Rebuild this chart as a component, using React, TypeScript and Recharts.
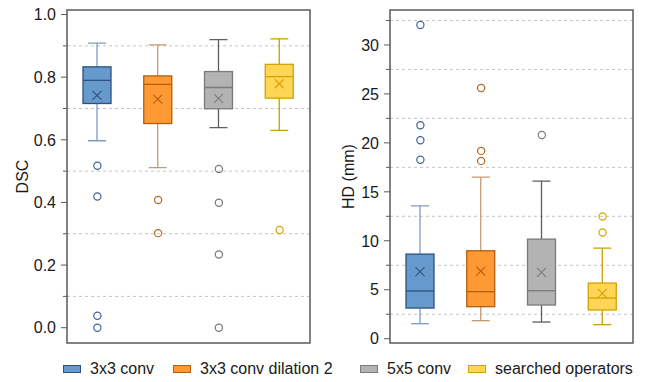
import React from "react";
import { Bar, CartesianGrid, ComposedChart, ReferenceArea, Scatter, XAxis, YAxis } from "recharts";

const groups = ["3x3 conv", "3x3 conv dilation 2", "5x5 conv", "searched operators"];

// DSC box statistics
const dscLow = [0.597, 0.511, 0.639, 0.63];
const dscQ1 = [0.716, 0.652, 0.699, 0.733];
const dscMedian = [0.79, 0.777, 0.767, 0.802];
const dscQ3 = [0.833, 0.804, 0.818, 0.841];
const dscHigh = [0.909, 0.903, 0.92, 0.922];
const dscMean = [0.742, 0.73, 0.732, 0.779];
const dscOutliers = [[0.517, 0.419, 0.038, 0.0], [0.408, 0.302], [0.507, 0.399, 0.234, 0.0], [0.312]];
const dscMajor = [0, 0.2, 0.4, 0.6, 0.8, 1.0];
const dscMinor = [0.1, 0.3, 0.5, 0.7, 0.9];

// HD box statistics (mm)
const hdLow = [1.53, 1.84, 1.7, 1.43];
const hdQ1 = [3.13, 3.27, 3.44, 2.93];
const hdMedian = [4.87, 4.8, 4.9, 4.15];
const hdQ3 = [8.64, 8.98, 10.17, 5.68];
const hdHigh = [13.57, 16.5, 16.1, 9.25];
const hdMean = [6.84, 6.9, 6.77, 4.62];
const hdOutliers = [[32.04, 21.8, 20.27, 18.27], [25.6, 19.18, 18.16], [20.8], [12.48, 10.85]];
const hdMajor = [0, 5, 10, 15, 20, 25, 30];
const hdMinor = [2.5, 7.5, 12.5, 17.5, 22.5, 27.5, 32.5];

const fills = ["#6699cc", "#ff9933", "#b3b3b3", "#ffd555"];
const edges = ["#2e5182", "#b0600e", "#7a7a7a", "#d3a200"];
const whiskers = ["#7e9bbf", "#c8996e", "#5e5e5e", "#c9a000"];
const dots = ["#3f6596", "#b06a25", "#7a7a7a", "#d4a500"];

const FONT = "'Liberation Sans', Arial, sans-serif";
const FRAME = "#5a5a5a";

function buildRows(low: number[], q1: number[], med: number[], q3: number[], high: number[], mean: number[]) {
  return groups.map((name, i) => ({
    name, i, low: low[i], q1: q1[i], med: med[i], q3: q3[i], high: high[i], mean: mean[i],
  }));
}

function buildOutliers(out: number[][]) {
  return out.flatMap((vals, i) => vals.map((v) => ({ name: groups[i], i, v })));
}

function BoxShape(props: any) {
  const { x, y, width, height, payload } = props;
  const { low, q1, med, q3, high, mean, i } = payload;
  const py = (v: number) => y + (height * (high - v)) / (high - low);
  const cx = x + width / 2;
  const cap = 9;
  const m = 4.5;
  return (
    <g>
      <line x1={cx} x2={cx} y1={py(high)} y2={py(q3)} stroke={whiskers[i]} strokeWidth={1.3} />
      <line x1={cx} x2={cx} y1={py(q1)} y2={py(low)} stroke={whiskers[i]} strokeWidth={1.3} />
      <line x1={cx - cap} x2={cx + cap} y1={py(high)} y2={py(high)} stroke={whiskers[i]} strokeWidth={1.3} />
      <line x1={cx - cap} x2={cx + cap} y1={py(low)} y2={py(low)} stroke={whiskers[i]} strokeWidth={1.3} />
      <rect x={x} y={py(q3)} width={width} height={py(q1) - py(q3)} fill={fills[i]} stroke={edges[i]} strokeWidth={1.3} />
      <line x1={x} x2={x + width} y1={py(med)} y2={py(med)} stroke={edges[i]} strokeWidth={1.3} />
      <line x1={cx - m} x2={cx + m} y1={py(mean) - m} y2={py(mean) + m} stroke={edges[i]} strokeWidth={1.1} />
      <line x1={cx - m} x2={cx + m} y1={py(mean) + m} y2={py(mean) - m} stroke={edges[i]} strokeWidth={1.1} />
    </g>
  );
}

function OutlierDot(props: any) {
  const { cx, cy, payload } = props;
  return <circle cx={cx} cy={cy} r={3.6} fill="none" stroke={dots[payload.i]} strokeWidth={1.2} />;
}

type PanelProps = {
  width: number;
  axisWidth: number;
  rows: ReturnType<typeof buildRows>;
  outliers: ReturnType<typeof buildOutliers>;
  domain: [number, number];
  major: number[];
  minor: number[];
  title: string;
  titleX: number;
  fmt: (v: number) => string;
  marginRight: number;
};

function BoxPanel(p: PanelProps) {
  const ticks = [...p.major, ...p.minor].sort((a, b) => a - b);
  const renderTick = (t: any) => {
    const v = t.payload.value;
    const isMajor = p.major.includes(v);
    return (
      <g>
        <line x1={p.axisWidth - (isMajor ? 6 : 4)} x2={p.axisWidth} y1={t.y} y2={t.y} stroke={FRAME} strokeWidth={1} />
        {isMajor && (
          <text x={p.axisWidth - 11} y={t.y} dy="0.36em" textAnchor="end" fontSize={16} fill="#1a1a1a" fontFamily={FONT}>
            {p.fmt(v)}
          </text>
        )}
      </g>
    );
  };
  return (
    <ComposedChart
      width={p.width}
      height={382}
      data={p.rows}
      margin={{ top: 10, right: p.marginRight, bottom: 39, left: 0 }}
    >
      <CartesianGrid vertical={false} horizontalValues={p.minor} stroke="#c4c4c4" strokeDasharray="3 3" />
      <XAxis dataKey="name" allowDuplicatedCategory={false} tick={false} tickLine={false} height={0} axisLine={false} />
      <YAxis
        type="number"
        domain={p.domain}
        allowDataOverflow
        ticks={ticks}
        interval={0}
        width={p.axisWidth}
        tick={renderTick}
        tickLine={false}
        axisLine={false}
        label={{
          content: (lp: any) => {
            const vb = lp.viewBox;
            const cy = vb.y + vb.height / 2;
            return (
              <text x={p.titleX} y={cy} transform={`rotate(-90, ${p.titleX}, ${cy})`} textAnchor="middle" dy="0.36em" fontSize={16} fill="#1a1a1a" fontFamily={FONT}>
                {p.title}
              </text>
            );
          },
        }}
      />
      <Bar dataKey={(d: any) => [d.low, d.high]} barSize={28} shape={BoxShape} isAnimationActive={false} />
      <Scatter data={p.outliers} dataKey="v" shape={OutlierDot} isAnimationActive={false} />
      <ReferenceArea y1={p.domain[0]} y2={p.domain[1]} fill="none" fillOpacity={0} stroke={FRAME} strokeWidth={1.5} />
    </ComposedChart>
  );
}

const legendLeft = [63, 173, 360, 468];

export default function App() {
  const dscRows = buildRows(dscLow, dscQ1, dscMedian, dscQ3, dscHigh, dscMean);
  const hdRows = buildRows(hdLow, hdQ1, hdMedian, hdQ3, hdHigh, hdMean);
  return (
    <div style={{ position: "absolute", left: 0, top: 0, width: 647, height: 382, background: "#fff", fontFamily: FONT }}>
      <div style={{ position: "absolute", left: 0, top: 0 }}>
        <BoxPanel
          width={320}
          axisWidth={67}
          rows={dscRows}
          outliers={buildOutliers(dscOutliers)}
          domain={[-0.0488, 1.0145]}
          major={dscMajor}
          minor={dscMinor}
          title="DSC"
          titleX={22}
          fmt={(v) => v.toFixed(1)}
          marginRight={10}
        />
      </div>
      <div style={{ position: "absolute", left: 320, top: 0 }}>
        <BoxPanel
          width={327}
          axisWidth={70}
          rows={hdRows}
          outliers={buildOutliers(hdOutliers)}
          domain={[-0.44, 33.57]}
          major={hdMajor}
          minor={hdMinor}
          title="HD (mm)"
          titleX={28}
          fmt={(v) => String(v)}
          marginRight={14}
        />
      </div>
      {groups.map((g, i) => (
        <div key={g} style={{ position: "absolute", left: legendLeft[i], top: 358, height: 22, display: "flex", alignItems: "center" }}>
          <span style={{ display: "inline-block", width: 16, height: 6, background: fills[i], border: `1px solid ${edges[i]}`, marginRight: 9 }} />
          <span style={{ fontSize: 16, color: "#1a1a1a", whiteSpace: "nowrap" }}>{g}</span>
        </div>
      ))}
    </div>
  );
}
